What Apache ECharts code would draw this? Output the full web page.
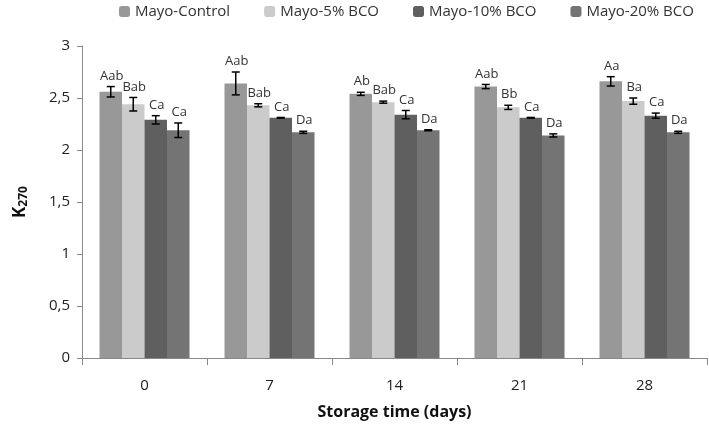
<!DOCTYPE html>
<html><head><meta charset="utf-8">
<script src="https://cdn.jsdelivr.net/npm/echarts@6/dist/echarts.min.js"></script>
<style>html,body{margin:0;padding:0;background:#fff}#c{width:709px;height:425px}</style>
</head><body><div id="c"></div>
<script>
var categories = ['0', '7', '14', '21', '28'];
var seriesNames = ['Mayo-Control', 'Mayo-5% BCO', 'Mayo-10% BCO', 'Mayo-20% BCO'];
var control = [2.56, 2.64, 2.54, 2.61, 2.66];
var bco5 = [2.44, 2.43, 2.46, 2.41, 2.47];
var bco10 = [2.29, 2.31, 2.34, 2.31, 2.33];
var bco20 = [2.19, 2.17, 2.19, 2.14, 2.17];
var errControl = [0.05, 0.11, 0.015, 0.02, 0.045];
var err5 = [0.065, 0.015, 0.01, 0.02, 0.03];
var err10 = [0.04, 0.003, 0.04, 0.003, 0.025];
var err20 = [0.07, 0.01, 0.005, 0.015, 0.01];
var lblControl = ['Aab', 'Aab', 'Ab', 'Aab', 'Aa'];
var lbl5 = ['Bab', 'Bab', 'Bab', 'Bb', 'Ba'];
var lbl10 = ['Ca', 'Ca', 'Ca', 'Ca', 'Ca'];
var lbl20 = ['Ca', 'Da', 'Da', 'Da', 'Da'];
var yTicks = [0, 0.5, 1, 1.5, 2, 2.5, 3];

var values = [control, bco5, bco10, bco20];
var errs = [errControl, err5, err10, err20];
var lbls = [lblControl, lbl5, lbl10, lbl20];
var colors = ['#989898', '#cbcbcb', '#5f5f5f', '#747474'];
var gapFrac = 0.28;
var fontFam = '"Open Sans", "Noto Sans", sans-serif';

var series = [];
values.forEach(function (v, s) {
  series.push({
    name: seriesNames[s], type: 'bar', data: v, itemStyle: { color: colors[s] },
    barGap: '0%', barCategoryGap: '28%'
  });
});
values.forEach(function (v, s) {
  var data = v.map(function (val, i) { return [i, val, errs[s][i], lbls[s][i]]; });
  series.push({
    type: 'custom', data: data, z: 10, silent: true,
    renderItem: function (params, api) {
      var i = api.value(0), val = api.value(1), e = api.value(2);
      var band = api.size([1, 0])[0];
      var bw = band * (1 - gapFrac) / 4;
      var cx = api.coord([i, val])[0] + (s - 1.5) * bw;
      var yt = api.coord([i, val + e])[1];
      var yb = api.coord([i, val - e])[1];
      var cap = 4;
      var st = { stroke: '#000', lineWidth: 1.5 };
      return {
        type: 'group', children: [
          { type: 'line', shape: { x1: cx, y1: yt, x2: cx, y2: yb }, style: st },
          { type: 'line', shape: { x1: cx - cap, y1: yt, x2: cx + cap, y2: yt }, style: st },
          { type: 'line', shape: { x1: cx - cap, y1: yb, x2: cx + cap, y2: yb }, style: st },
          { type: 'text', style: { text: lbls[s][i], x: cx + 1, y: yt - 4, textAlign: 'center', textVerticalAlign: 'bottom',
              fill: '#333', font: '13px ' + fontFam } }
        ]
      };
    }
  });
});

var chart = echarts.init(document.getElementById('c'));
chart.setOption({
  animation: false,
  textStyle: { fontFamily: fontFam },
  legend: {
    data: seriesNames, top: -1, left: 114, itemWidth: 11, itemHeight: 11, itemGap: 34,
    textStyle: { fontSize: 15, color: '#333', fontFamily: fontFam }
  },
  grid: { left: 82, right: 2, top: 46, bottom: 66 },
  xAxis: {
    type: 'category', data: categories,
    name: 'Storage time (days)', nameLocation: 'middle', nameGap: 46,
    nameTextStyle: { fontSize: 16, fontWeight: 'bold', color: '#111' },
    axisLine: { lineStyle: { color: '#888' } },
    axisTick: { show: true, length: 7, lineStyle: { color: '#888' } },
    axisLabel: { fontSize: 15, color: '#222', margin: 20 }
  },
  yAxis: {
    type: 'value', min: 0, max: 3, interval: 0.5,
    name: '{k|K}{s|270}', nameLocation: 'middle', nameGap: 52, nameRotate: 90,
    nameTextStyle: { rich: { k: { fontSize: 17, fontWeight: 'bold', color: '#111' }, s: { fontSize: 12, fontWeight: 'bold', color: '#111', verticalAlign: 'bottom', padding: [8, 0, 0, 0] } } },
    axisLine: { show: true, lineStyle: { color: '#888' } },
    axisTick: { show: true, length: 5, lineStyle: { color: '#888' } },
    splitLine: { show: false },
    axisLabel: { fontSize: 15, color: '#222', margin: 12,
      formatter: function (v) { return String(v).replace('.', ','); } }
  },
  series: series
});
</script></body></html>
